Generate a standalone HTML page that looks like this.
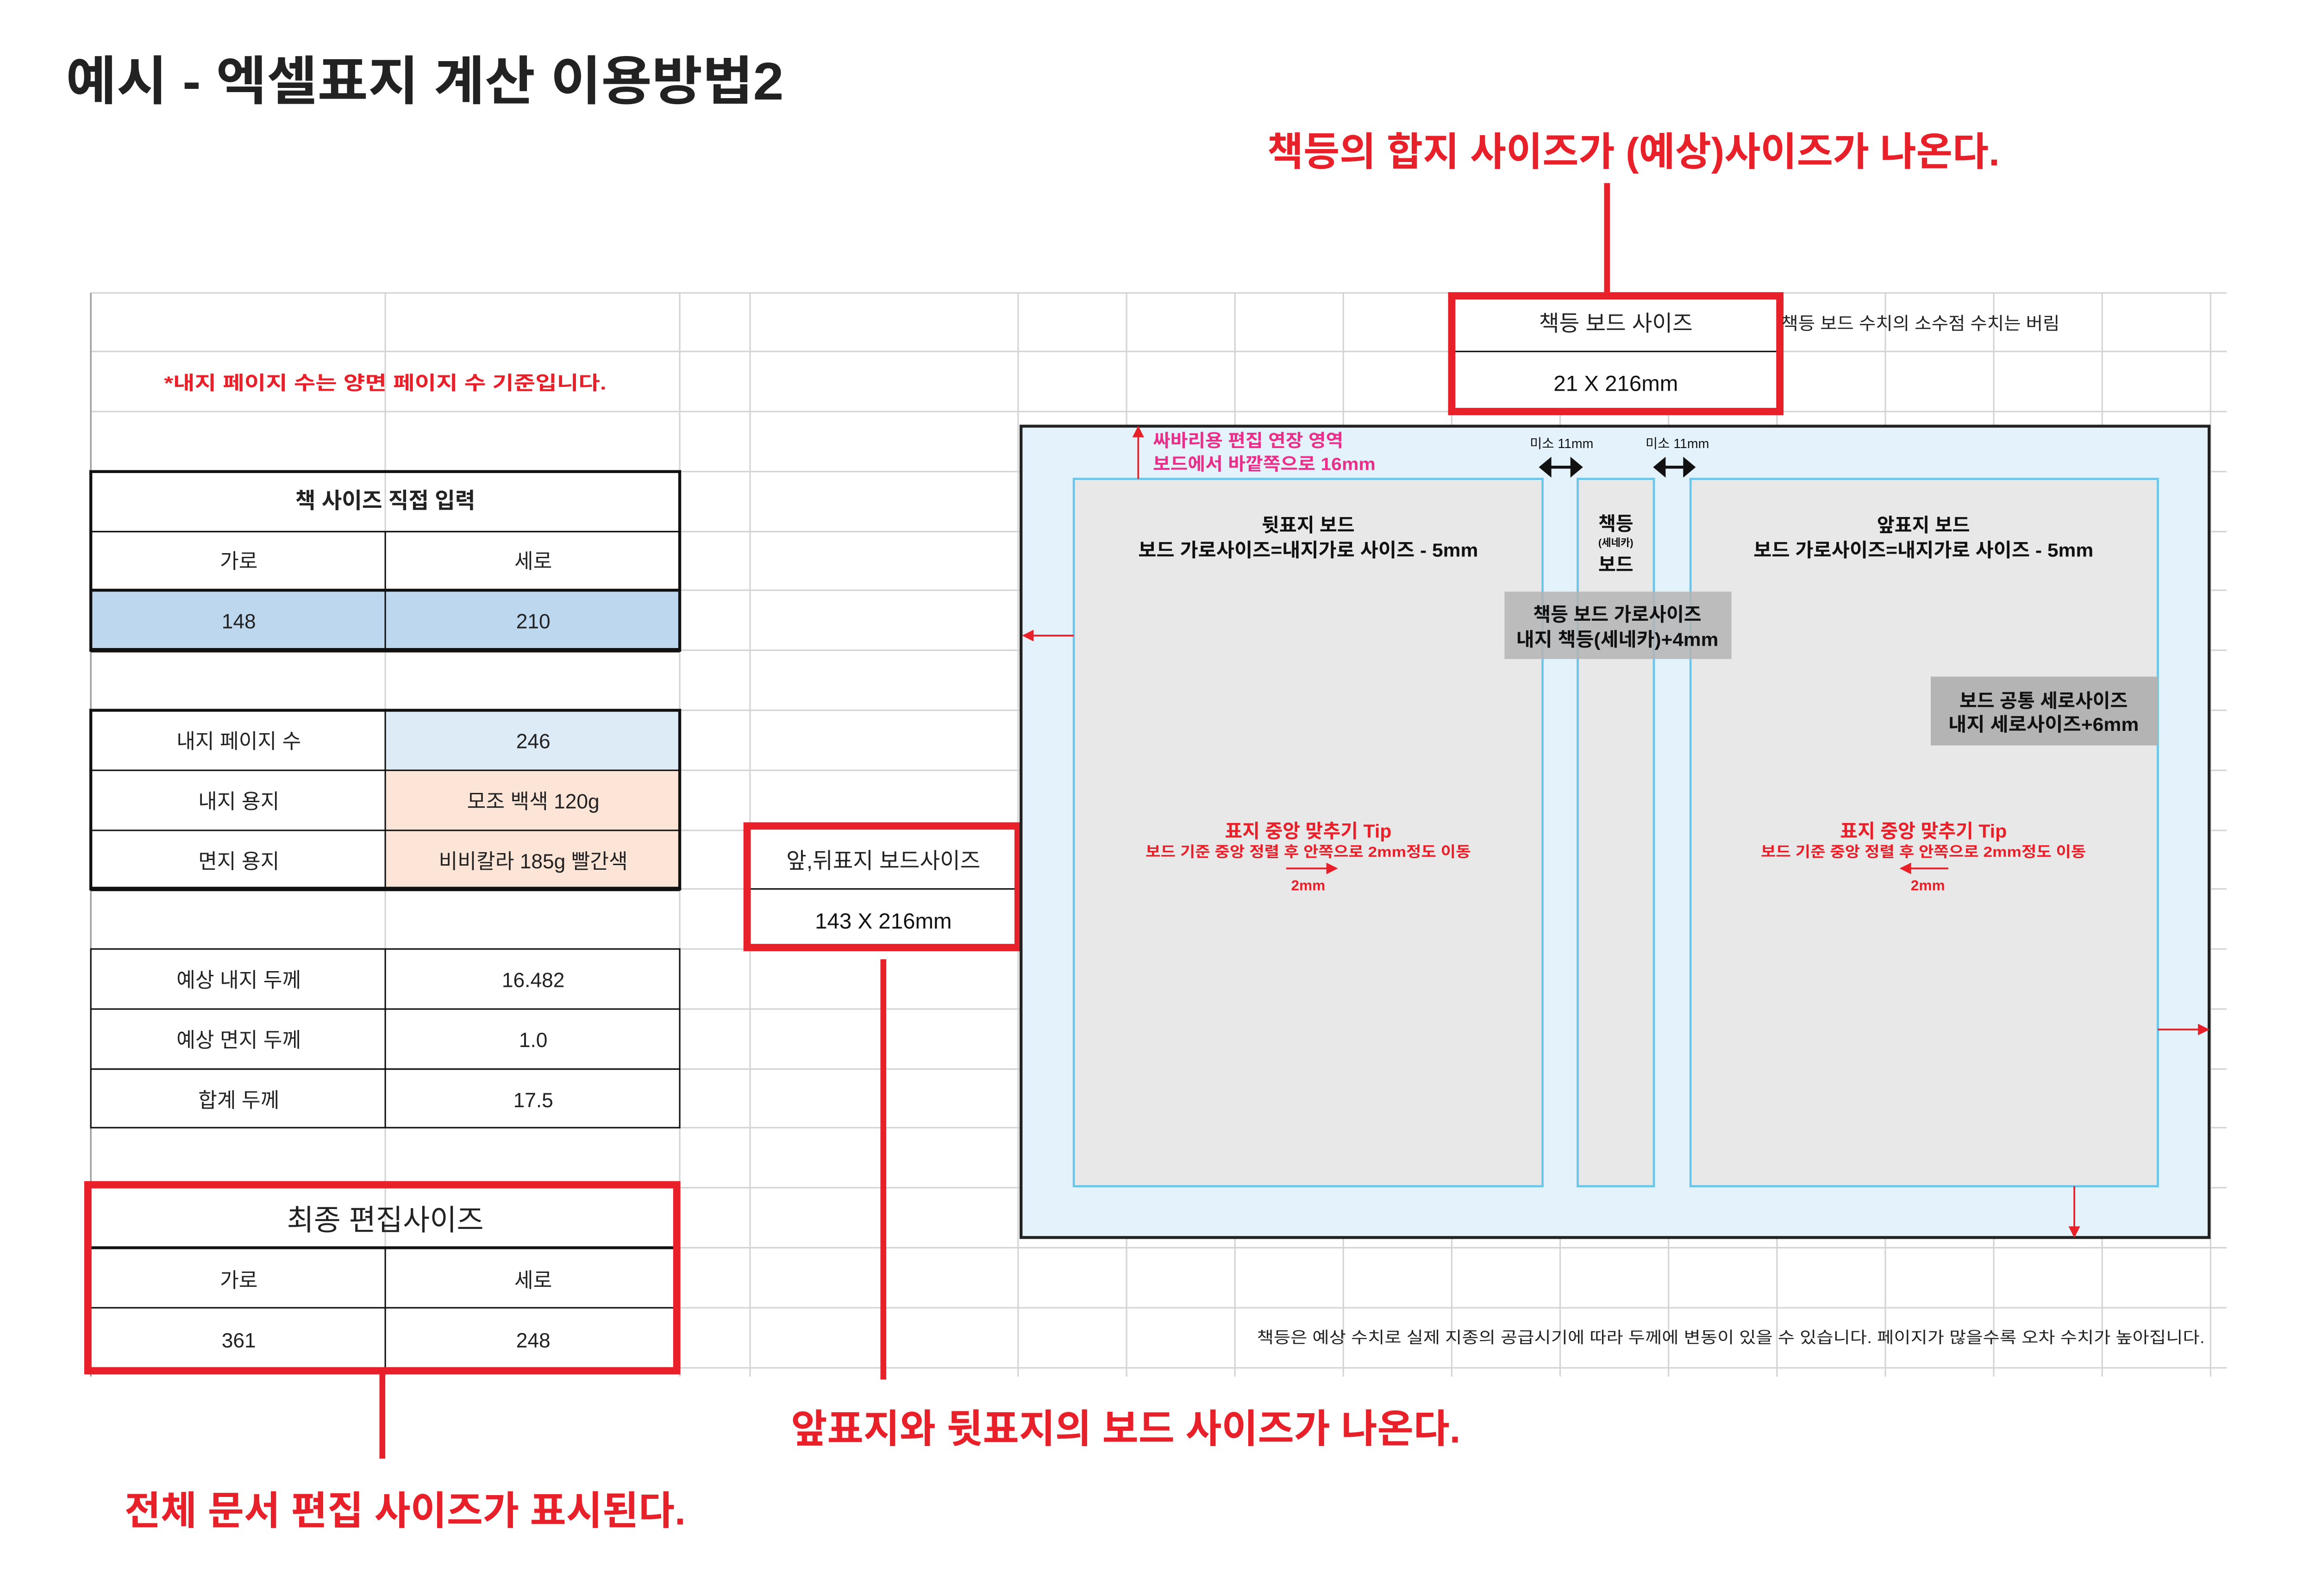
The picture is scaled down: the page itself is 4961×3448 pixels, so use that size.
<!DOCTYPE html>
<html><head><meta charset="utf-8"><style>html,body{margin:0;padding:0;background:#fff}svg{display:block}text{font-family:"Liberation Sans","Noto Sans CJK KR",sans-serif}</style></head><body>
<svg width="4961" height="3448" viewBox="0 0 1568 1089.8" preserveAspectRatio="none" xmlns="http://www.w3.org/2000/svg">
<rect width="1568" height="1090" fill="#fff"/>
<text x="45" y="68" font-size="36" font-weight="bold" fill="#222" textLength="490" lengthAdjust="spacingAndGlyphs">예시 - 엑셀표지 계산 이용방법2</text>
<text x="865" y="113" font-size="27" font-weight="bold" fill="#e8202a" textLength="500" lengthAdjust="spacingAndGlyphs">책등의 합지 사이즈가 (예상)사이즈가 나온다.</text>
<rect x="1095" y="125" width="4" height="77" fill="#e8202a"/>
<g stroke="#d4d4d4" stroke-width="1">
<line x1="62" y1="200" x2="1520" y2="200"/>
<line x1="62" y1="240" x2="1520" y2="240"/><line x1="62" y1="281" x2="1520" y2="281"/><line x1="62" y1="322" x2="1520" y2="322"/><line x1="62" y1="363" x2="1520" y2="363"/><line x1="62" y1="403" x2="1520" y2="403"/><line x1="62" y1="444" x2="1520" y2="444"/><line x1="62" y1="485" x2="1520" y2="485"/><line x1="62" y1="526" x2="1520" y2="526"/><line x1="62" y1="567" x2="1520" y2="567"/><line x1="62" y1="607" x2="1520" y2="607"/><line x1="62" y1="648" x2="1520" y2="648"/><line x1="62" y1="689" x2="1520" y2="689"/><line x1="62" y1="730" x2="1520" y2="730"/><line x1="62" y1="770" x2="1520" y2="770"/><line x1="62" y1="811" x2="1520" y2="811"/><line x1="62" y1="852" x2="1520" y2="852"/><line x1="62" y1="893" x2="1520" y2="893"/><line x1="62" y1="934" x2="1520" y2="934"/>
<line x1="62" y1="200" x2="62" y2="940"/><line x1="263" y1="200" x2="263" y2="940"/><line x1="464" y1="200" x2="464" y2="940"/><line x1="512" y1="200" x2="512" y2="940"/><line x1="695" y1="200" x2="695" y2="940"/>
<line x1="769" y1="200" x2="769" y2="940"/><line x1="843" y1="200" x2="843" y2="940"/><line x1="917" y1="200" x2="917" y2="940"/><line x1="991" y1="200" x2="991" y2="940"/><line x1="1065" y1="200" x2="1065" y2="940"/><line x1="1139" y1="200" x2="1139" y2="940"/><line x1="1213" y1="200" x2="1213" y2="940"/><line x1="1287" y1="200" x2="1287" y2="940"/><line x1="1361" y1="200" x2="1361" y2="940"/><line x1="1435" y1="200" x2="1435" y2="940"/><line x1="1509" y1="200" x2="1509" y2="940"/>
</g>
<line x1="62" y1="200" x2="62" y2="940" stroke="#999"/>
<text x="112" y="266" font-size="13" font-weight="bold" fill="#e8202a" textLength="302" lengthAdjust="spacingAndGlyphs">*내지 페이지 수는 양면 페이지 수 기준입니다.</text>
<rect x="62" y="403" width="402" height="41" fill="#bdd7ee"/>
<g stroke="#111" fill="none"><rect x="62" y="322" width="402" height="122" stroke-width="2"/><line x1="62" y1="363" x2="464" y2="363"/><line x1="62" y1="403" x2="464" y2="403" stroke-width="2"/><line x1="263" y1="363" x2="263" y2="444"/><line x1="62" y1="444" x2="464" y2="444" stroke-width="3"/></g>
<g font-size="14" fill="#222" text-anchor="middle">
<text x="263" y="347" font-size="15" font-weight="bold">책 사이즈 직접 입력</text>
<text x="163" y="388">가로</text><text x="364" y="388">세로</text>
<text x="163" y="429">148</text><text x="364" y="429">210</text>
</g>
<rect x="263" y="485" width="201" height="41" fill="#ddebf7"/><rect x="263" y="526" width="201" height="81" fill="#fce4d6"/>
<g stroke="#111" fill="none"><rect x="62" y="485" width="402" height="122" stroke-width="2"/><line x1="62" y1="526" x2="464" y2="526"/><line x1="62" y1="567" x2="464" y2="567"/><line x1="263" y1="485" x2="263" y2="607"/><line x1="62" y1="607" x2="464" y2="607" stroke-width="3"/></g>
<g font-size="14" fill="#222" text-anchor="middle">
<text x="163" y="511">내지 페이지 수</text><text x="364" y="511">246</text>
<text x="163" y="552">내지 용지</text><text x="364" y="552">모조 백색 120g</text>
<text x="163" y="593">면지 용지</text><text x="364" y="593">비비칼라 185g 빨간색</text>
</g>
<g stroke="#111" fill="none"><rect x="62" y="648" width="402" height="122"/><line x1="62" y1="689" x2="464" y2="689"/><line x1="62" y1="730" x2="464" y2="730"/><line x1="263" y1="648" x2="263" y2="770"/></g>
<g font-size="14" fill="#222" text-anchor="middle">
<text x="163" y="674">예상 내지 두께</text><text x="364" y="674">16.482</text>
<text x="163" y="715">예상 면지 두께</text><text x="364" y="715">1.0</text>
<text x="163" y="756">합계 두께</text><text x="364" y="756">17.5</text>
</g>
<g stroke="#111" fill="none"><line x1="62" y1="852" x2="464" y2="852" stroke-width="2"/><line x1="62" y1="893" x2="464" y2="893"/><line x1="263" y1="852" x2="263" y2="934"/></g>
<rect x="60" y="809" width="402" height="127" fill="none" stroke="#e8202a" stroke-width="5"/>
<g font-size="14" fill="#222" text-anchor="middle">
<text x="263" y="840" font-size="20">최종 편집사이즈</text>
<text x="163" y="879">가로</text><text x="364" y="879">세로</text>
<text x="163" y="920">361</text><text x="364" y="920">248</text>
</g>
<rect x="259" y="938" width="4" height="58" fill="#e8202a"/>
<text x="85" y="1041" font-size="27" font-weight="bold" fill="#e8202a" textLength="383" lengthAdjust="spacingAndGlyphs">전체 문서 편집 사이즈가 표시된다.</text>
<rect x="510" y="564" width="185" height="83" fill="#fff"/>
<line x1="510" y1="607" x2="695" y2="607" stroke="#111"/>
<rect x="510" y="564" width="185" height="83" fill="none" stroke="#e8202a" stroke-width="5"/>
<text x="603" y="593" font-size="15" text-anchor="middle" fill="#222">앞,뒤표지 보드사이즈</text>
<text x="603" y="634" font-size="15" text-anchor="middle" fill="#111">143 X 216mm</text>
<rect x="601" y="655" width="4" height="287" fill="#e8202a"/>
<text x="540" y="985" font-size="27" font-weight="bold" fill="#e8202a" textLength="457" lengthAdjust="spacingAndGlyphs">앞표지와 뒷표지의 보드 사이즈가 나온다.</text>
<rect x="991" y="202" width="224" height="79" fill="#fff"/>
<line x1="991" y1="240" x2="1215" y2="240" stroke="#111"/>
<rect x="991" y="202" width="224" height="79" fill="none" stroke="#e8202a" stroke-width="5"/>
<text x="1103" y="226" font-size="15" text-anchor="middle" fill="#222">책등 보드 사이즈</text>
<text x="1103" y="267" font-size="15" text-anchor="middle" fill="#111">21 X 216mm</text>
<text x="1216" y="225" font-size="12" fill="#222" textLength="190" lengthAdjust="spacingAndGlyphs">책등 보드 수치의 소수점 수치는 버림</text>
<rect x="697" y="291" width="811" height="554" fill="#e3f2fb" stroke="#222" stroke-width="2"/>
<g fill="#e8e8e8" stroke="#6cc6ea" stroke-width="1.5"><rect x="733" y="327" width="320" height="483"/><rect x="1077" y="327" width="52" height="483"/><rect x="1154" y="327" width="319" height="483"/></g>
<g stroke="#e8202a" stroke-width="1.2" fill="#e8202a">
<line x1="777" y1="293" x2="777" y2="327"/><path d="M774,298 L777,292 L780,298Z"/>
<line x1="700" y1="434" x2="733" y2="434"/><path d="M705,431 L699,434 L705,437Z"/>
<line x1="1473" y1="703" x2="1506" y2="703"/><path d="M1501,700 L1507,703 L1501,706Z"/>
<line x1="1416" y1="810" x2="1416" y2="843"/><path d="M1413,838 L1416,844 L1419,838Z"/>
<line x1="878" y1="593" x2="910" y2="593"/><path d="M906,590 L912,593 L906,596Z"/>
<line x1="1300" y1="593" x2="1330" y2="593"/><path d="M1304,590 L1298,593 L1304,596Z"/>
</g>
<text x="787" y="305" font-size="12" font-weight="bold" fill="#e8308a" textLength="130" lengthAdjust="spacingAndGlyphs">싸바리용 편집 연장 영역</text>
<text x="787" y="321" font-size="12" font-weight="bold" fill="#e8308a" textLength="152" lengthAdjust="spacingAndGlyphs">보드에서 바깥쪽으로 16mm</text>
<g font-size="9" fill="#111" text-anchor="middle"><text x="1066" y="306">미소 11mm</text><text x="1145" y="306">미소 11mm</text></g>
<g stroke="#111" stroke-width="2" fill="#111"><line x1="1055" y1="319" x2="1076" y2="319"/><path d="M1052,319 L1058,314 L1058,324Z M1079,319 L1073,314 L1073,324Z"/><line x1="1133" y1="319" x2="1153" y2="319"/><path d="M1130,319 L1136,314 L1136,324Z M1156,319 L1150,314 L1150,324Z"/></g>
<g font-size="13" font-weight="bold" fill="#111" text-anchor="middle">
<text x="893" y="363">뒷표지 보드</text><text x="893" y="380" textLength="232" lengthAdjust="spacingAndGlyphs">보드 가로사이즈=내지가로 사이즈 - 5mm</text>
<text x="1313" y="363">앞표지 보드</text><text x="1313" y="380" textLength="232" lengthAdjust="spacingAndGlyphs">보드 가로사이즈=내지가로 사이즈 - 5mm</text>
<text x="1103" y="362">책등</text><text x="1103" y="373" font-size="7">(세네카)</text><text x="1103" y="390">보드</text>
</g>
<rect x="1027" y="404" width="155" height="46" fill="#b4b4b4" fill-opacity="0.85"/>
<rect x="1318" y="462" width="155" height="47" fill="#b4b4b4"/>
<g font-size="13" font-weight="bold" fill="#111" text-anchor="middle">
<text x="1104" y="424">책등 보드 가로사이즈</text><text x="1104" y="441" textLength="138" lengthAdjust="spacingAndGlyphs">내지 책등(세네카)+4mm</text>
<text x="1395" y="483">보드 공통 세로사이즈</text><text x="1395" y="499" textLength="130" lengthAdjust="spacingAndGlyphs">내지 세로사이즈+6mm</text>
</g>
<g fill="#e8202a" text-anchor="middle" font-weight="bold">
<text x="893" y="572" font-size="13">표지 중앙 맞추기 Tip</text><text x="893" y="585" font-size="10" textLength="222" lengthAdjust="spacingAndGlyphs">보드 기준 중앙 정렬 후 안쪽으로 2mm정도 이동</text><text x="893" y="608" font-size="10">2mm</text>
<text x="1313" y="572" font-size="13">표지 중앙 맞추기 Tip</text><text x="1313" y="585" font-size="10" textLength="222" lengthAdjust="spacingAndGlyphs">보드 기준 중앙 정렬 후 안쪽으로 2mm정도 이동</text><text x="1316" y="608" font-size="10">2mm</text>
</g>
<text x="858" y="917" font-size="11" fill="#222" textLength="647" lengthAdjust="spacingAndGlyphs">책등은 예상 수치로 실제 지종의 공급시기에 따라 두께에 변동이 있을 수 있습니다. 페이지가 많을수록 오차 수치가 높아집니다.</text>
</svg>
</body></html>
